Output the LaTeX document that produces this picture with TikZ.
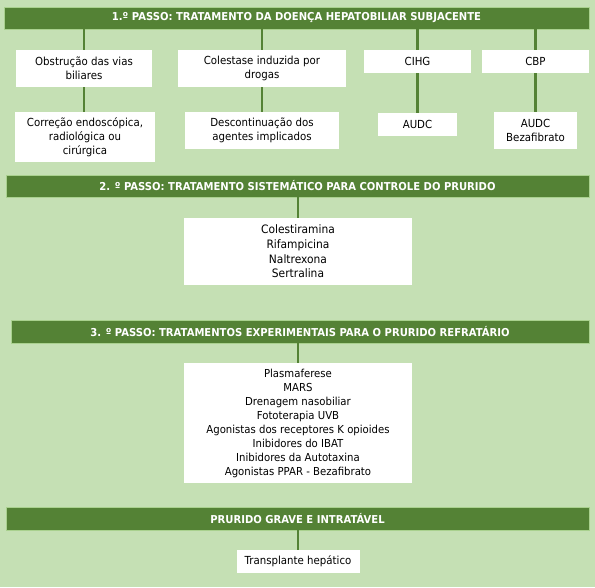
\documentclass[tikz,border=0pt]{standalone}
\usepackage{fontspec}
\setmainfont{DejaVu Sans}[FakeStretch=0.92]
\usepackage{xcolor}
\usetikzlibrary{positioning}
\definecolor{fundo}{HTML}{C5E0B4}
\definecolor{verde}{HTML}{548235}
\definecolor{borda}{HTML}{A9D18E}

\begin{document}
\begin{tikzpicture}[x=1pt, y=-1pt,
    passo/.style={rectangle, fill=verde, draw=borda, line width=0.6pt, text=white,
        inner sep=0pt, font=\bfseries\fontsize{10.9}{12}\selectfont},
    caixa/.style={rectangle, fill=white, align=center, inner sep=0pt,
        font=\fontsize{11.1}{14}\selectfont},
    liga/.style={draw=verde, line width=2.5pt}]
    % 1. Fundo
    \fill[fundo] (0,0) rectangle (595,587);

    % 2. Primeiro passo
    \node[passo, minimum width=585pt, minimum height=22pt] (passo1) at (296.5,18)
        {1.º PASSO: TRATAMENTO DA DOENÇA HEPATOBILIAR SUBJACENTE};
    \node[caixa, minimum width=136pt, minimum height=37pt] (obstr) at (84,68.5)
        {Obstrução das vias\\biliares};
    \node[caixa, minimum width=168pt, minimum height=37pt] (colest) at (262,68.5)
        {Colestase induzida por\\drogas};
    \node[caixa, minimum width=107pt, minimum height=23pt] (cihg) at (417.5,61.5) {CIHG};
    \node[caixa, minimum width=107pt, minimum height=23pt] (cbp) at (535.5,61.5) {CBP};
    \node[caixa, minimum width=140pt, minimum height=50pt] (correcao) at (85,137)
        {Correção endoscópica,\\radiológica ou\\cirúrgica};
    \node[caixa, minimum width=154pt, minimum height=37pt] (descont) at (262,130.5)
        {Descontinuação dos\\agentes implicados};
    \node[caixa, minimum width=79pt, minimum height=23pt] (audc) at (417.5,124.5) {AUDC};
    \node[caixa, minimum width=83pt, minimum height=37pt] (audcbez) at (535.5,130.5)
        {AUDC\\Bezafibrato};
    \draw[liga] (passo1.south -| obstr) -- (obstr.north);
    \draw[liga] (passo1.south -| colest) -- (colest.north);
    \draw[liga] (passo1.south -| cihg) -- (cihg.north);
    \draw[liga] (passo1.south -| cbp) -- (cbp.north);
    \draw[liga] (obstr.south) -- (obstr.south |- correcao.north);
    \draw[liga] (colest.south) -- (descont.north);
    \draw[liga] (cihg.south) -- (audc.north);
    \draw[liga] (cbp.south) -- (audcbez.north);

    % 3. Segundo passo
    \node[passo, minimum width=583pt, minimum height=22pt] (passo2) at (297.5,186)
        {2. º PASSO: TRATAMENTO SISTEMÁTICO PARA CONTROLE DO PRURIDO};
    \node[caixa, minimum width=228pt, minimum height=67pt, font=\fontsize{11.6}{14.6}\selectfont]
        (lista2) at (298,251.5)
        {Colestiramina\\Rifampicina\\Naltrexona\\Sertralina};
    \draw[liga] (passo2.south -| lista2) -- (lista2.north);

    % 4. Terceiro passo
    \node[passo, minimum width=578pt, minimum height=23pt] (passo3) at (300,331.5)
        {3. º PASSO: TRATAMENTOS EXPERIMENTAIS PARA O PRURIDO REFRATÁRIO};
    \node[caixa, minimum width=228pt, minimum height=120pt, font=\fontsize{11}{14}\selectfont]
        (lista3) at (298,423)
        {Plasmaferese\\MARS\\Drenagem nasobiliar\\Fototerapia UVB\\
         Agonistas dos receptores K opioides\\Inibidores do IBAT\\
         Inibidores da Autotaxina\\Agonistas PPAR - Bezafibrato};
    \draw[liga] (passo3.south -| lista3) -- (lista3.north);

    % 5. Prurido grave
    \node[passo, minimum width=583pt, minimum height=23pt] (grave) at (297.5,518.5)
        {PRURIDO GRAVE E INTRATÁVEL};
    \node[caixa, minimum width=123pt, minimum height=23pt] (transpl) at (298,561.5)
        {Transplante hepático};
    \draw[liga] (grave.south -| transpl) -- (transpl.north);
\end{tikzpicture}
\end{document}
